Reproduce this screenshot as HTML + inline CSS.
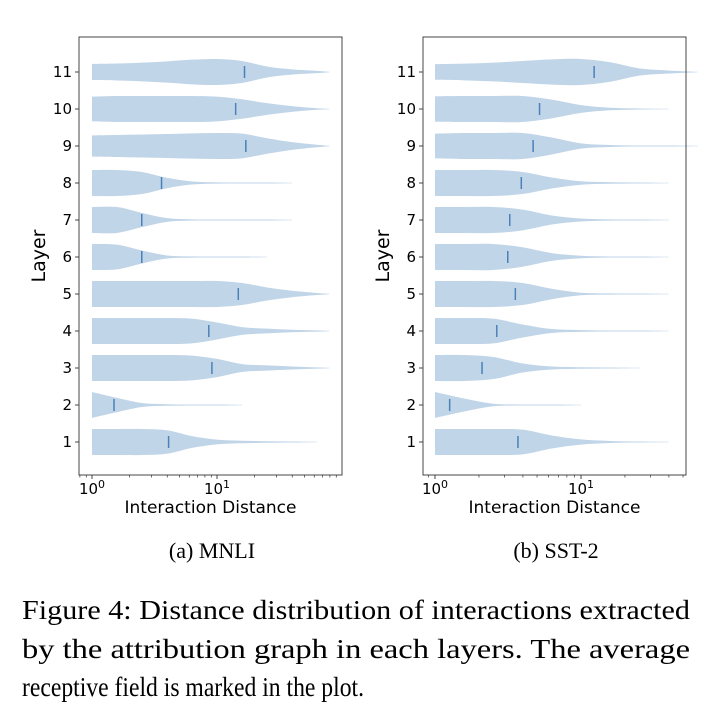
<!DOCTYPE html>
<html><head><meta charset="utf-8"><style>
html,body{margin:0;padding:0;background:#fff;}
svg{display:block;}
</style></head><body>
<svg id="fig" width="720" height="725" viewBox="0 0 720 725" xmlns="http://www.w3.org/2000/svg">
<g id="panelA"></g>
<g id="panelB"></g>
<text x="212" y="558" text-anchor="middle" font-family="Liberation Serif, serif" font-size="22">(a) MNLI</text>
<text x="556" y="558" text-anchor="middle" font-family="Liberation Serif, serif" font-size="22">(b) SST-2</text>
<g font-family="Liberation Serif, serif" font-size="27">
<text x="22" y="619" textLength="668" lengthAdjust="spacingAndGlyphs">Figure 4: Distance distribution of interactions extracted</text>
<text x="22" y="658" textLength="668" lengthAdjust="spacingAndGlyphs">by the attribution graph in each layers.  The average</text>
<text x="22" y="696" textLength="342" lengthAdjust="spacingAndGlyphs">receptive field is marked in the plot.</text>
</g>
</svg>
<script>
// layers shown on y axis
const layers = [1,2,3,4,5,6,7,8,9,10,11];
// log10 knots of interaction distance where violin half-widths are sampled
const knots = [0,0.2,0.4,0.6,0.8,1.0,1.2,1.4,1.6,1.8,1.9];
// MNLI half-width profiles (fraction of max), per layer 1..11
const mnliWidths = [
 [1,1,1,.9,.45,.18,.1,.06,.03,0,0],
 [1,.55,.15,.06,.03,.02,0,0,0,0,0],
 [1,1,1,1,.95,.7,.3,.2,.12,.05,0],
 [1,1,1,1,.95,.65,.3,.18,.1,.05,0],
 [1,1,1,1,1,1,.85,.5,.25,.08,.02],
 [1,.95,.5,.12,.05,.03,.02,0,0,0,0],
 [1,1,.55,.14,.05,.03,.02,.01,0,0,0],
 [1,1,.85,.4,.12,.05,.03,.02,0,0,0],
 [.82,.85,.88,.92,.97,1,.95,.6,.3,.1,0],
 [.95,1,1,1,1,.95,.75,.45,.22,.06,0],
 [.62,.65,.72,.82,.95,1,.85,.42,.2,.09,0]
];
// MNLI average receptive field
const mnliMeans = [4.1,1.5,9.1,8.6,14.8,2.5,2.5,3.6,17.0,14.1,16.6];
// SST-2 half-width profiles
const sstWidths = [
 [1,1,1,.95,.5,.2,.08,.03,0,0,0],
 [1,.5,.1,.04,.02,0,0,0,0,0,0],
 [1,1,.85,.35,.12,.06,.03,0,0,0,0],
 [1,1,.95,.5,.15,.07,.04,.02,0,0,0],
 [1,1,1,.85,.4,.1,.05,.03,0,0,0],
 [1,1,1,.75,.3,.1,.04,.02,0,0,0],
 [1,1,1,.8,.35,.12,.05,.03,0,0,0],
 [1,1,1,.85,.42,.13,.06,.03,0,0,0],
 [.95,1,1,1,.65,.2,.08,.04,.02,0,0],
 [.98,1,1,1,.72,.3,.1,.04,0,0,0],
 [.6,.64,.72,.85,.97,1,.75,.28,.12,0,0]
];
// SST-2 average receptive field
const sstMeans = [3.7,1.26,2.1,2.65,3.55,3.15,3.25,3.9,4.7,5.2,12.3];
const yTickLabels = ['1','2','3','4','5','6','7','8','9','10','11'];
const xTickExp = [0,1];

const NS='http://www.w3.org/2000/svg';
function mk(parent,tag,attrs){const e=document.createElementNS(NS,tag);for(const k in attrs)e.setAttribute(k,attrs[k]);parent.appendChild(e);return e;}
function smooth(pts){
  let d='';
  for(let k=0;k<pts.length-1;k++){
    const p0=pts[Math.max(k-1,0)],p1=pts[k],p2=pts[k+1],p3=pts[Math.min(k+2,pts.length-1)];
    const c1=[p1[0]+(p2[0]-p0[0])/6,p1[1]+(p2[1]-p0[1])/6];
    const c2=[p2[0]-(p3[0]-p1[0])/6,p2[1]-(p3[1]-p1[1])/6];
    d+=` C${c1[0]},${c1[1]} ${c2[0]},${c2[1]} ${p2[0]},${p2[1]}`;
  }
  return d;
}
function drawPanel(g,widths,means,box){
  const xs=v=>box.x0+(v-box.lmin)/(box.lmax-box.lmin)*(box.x1-box.x0);
  const xv=v=>xs(Math.log10(v));
  const ys=l=>box.yTop+(11-l)*(box.yBot-box.yTop)/10;
  const hw=13;
  layers.forEach((l,i)=>{
    const w=widths[i];
    let last=0;
    for(let k=0;k<knots.length;k++){ if(w[k]>0) last=k; }
    const endK=Math.min(last+1,knots.length-1);
    let top=[],bot=[];
    for(let k=0;k<=endK;k++){
      const px=xs(knots[k]); const h=k===endK?0.2:Math.max(w[k]*hw,0.5);
      top.push([px,ys(l)-h]); bot.push([px,ys(l)+h]);
    }
    const rb=bot.slice().reverse();
    let d='M'+top[0][0]+','+top[0][1]+smooth(top)+' L'+rb[0][0]+','+rb[0][1]+smooth(rb)+'Z';
    const p=mk(g,'path',{d:d,fill:'#c1d5e8'});
    
    
    const m=mk(g,'line',{x1:xv(means[i]),x2:xv(means[i]),y1:ys(l)-6,y2:ys(l)+6,stroke:'#4a81b8','stroke-width':1.5});
    
    
  });
  const frame=mk(g,'rect',{x:box.fx0,y:box.fy0,width:box.fx1-box.fx0,height:box.fy1-box.fy0,fill:'none',stroke:'#333','stroke-width':0.9});
  
  
  layers.forEach((l,i)=>{
    mk(g,'line',{x1:box.fx0-4,x2:box.fx0,y1:ys(l),y2:ys(l),stroke:'#333','stroke-width':0.9});
    const t=mk(g,'text',{x:box.fx0-7,y:ys(l)+5,'text-anchor':'end','font-family':'DejaVu Sans, sans-serif','font-size':15});
    t.textContent=yTickLabels[i];
    
    
  });
  xTickExp.forEach(e=>{
    const px=xs(e);
    mk(g,'line',{x1:px,x2:px,y1:box.fy1,y2:box.fy1+4,stroke:'#333','stroke-width':0.9});
    const t=mk(g,'text',{x:px,y:box.fy1+19,'text-anchor':'middle','font-family':'DejaVu Sans, sans-serif','font-size':15});
    
    
    t.textContent='10';
    const s=mk(t,'tspan',{dy:-6,'font-size':11}); s.textContent=String(e);
  });
  for(let dcd=-1;dcd<=2;dcd++){for(let m=2;m<=9;m++){const lv=dcd+Math.log10(m);const px=xs(lv);if(px<box.fx0||px>box.fx1)continue;mk(g,'line',{x1:px,x2:px,y1:box.fy1,y2:box.fy1+2.5,stroke:'#333','stroke-width':0.7});}}
  const xt=mk(g,'text',{x:(box.fx0+box.fx1)/2,y:box.fy1+38,'text-anchor':'middle','font-family':'DejaVu Sans, sans-serif','font-size':17});
  xt.textContent='Interaction Distance';
  
  
  const yt=mk(g,'text',{x:0,y:0,transform:`translate(${box.fx0-34},${(box.fy0+box.fy1)/2}) rotate(-90)`,'text-anchor':'middle','font-family':'DejaVu Sans, sans-serif','font-size':19});
  yt.textContent='Layer';
  
  
}
drawPanel(document.getElementById('panelA'),mnliWidths,mnliMeans,
 {x0:92,x1:217,lmin:0,lmax:1,yTop:72,yBot:442,fx0:79,fx1:342,fy0:37,fy1:475});
drawPanel(document.getElementById('panelB'),sstWidths,sstMeans,
 {x0:435,x1:581,lmin:0,lmax:1,yTop:72,yBot:442,fx0:423,fx1:686,fy0:37,fy1:475});
</script>
</body></html>
